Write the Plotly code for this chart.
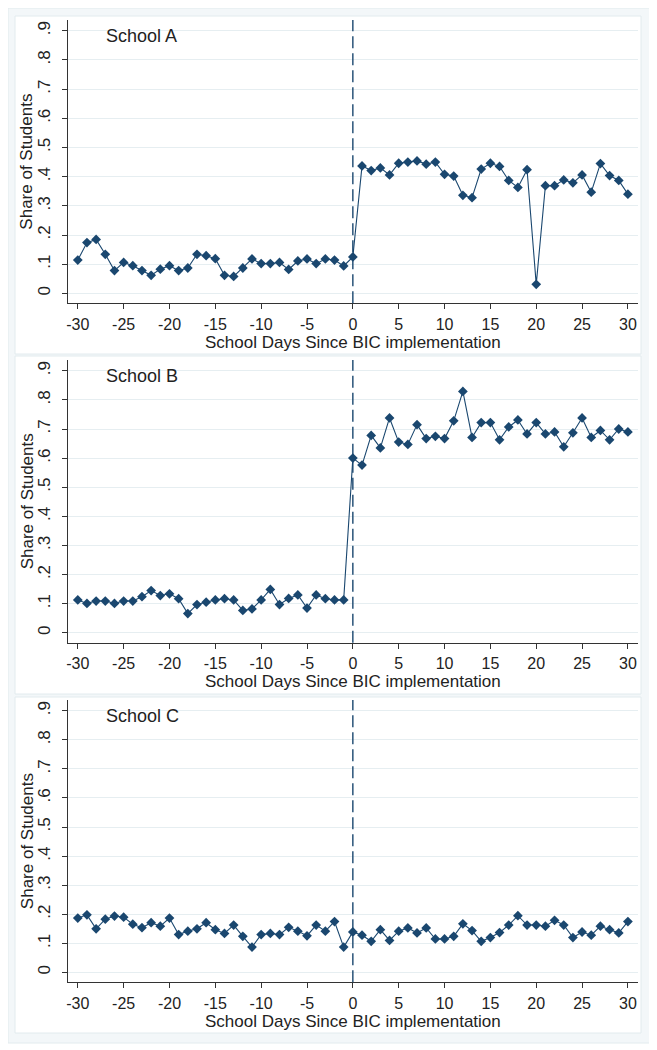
import plotly.graph_objects as go

days = list(range(-30, 31))

school_a = [0.114, 0.174, 0.185, 0.134, 0.078, 0.106, 0.095, 0.078, 0.062, 0.083,
            0.095, 0.078, 0.087, 0.134, 0.129, 0.119, 0.062, 0.058, 0.087, 0.118,
            0.102, 0.102, 0.106, 0.082, 0.111, 0.118, 0.102, 0.118, 0.114, 0.094,
            0.125,
            0.437, 0.421, 0.430, 0.406, 0.446, 0.450, 0.454, 0.443, 0.450, 0.408,
            0.402, 0.336, 0.328, 0.426, 0.446, 0.435, 0.387, 0.363, 0.424, 0.031,
            0.369, 0.369, 0.389, 0.379, 0.406, 0.347, 0.445, 0.404, 0.387, 0.340]

school_b = [0.113, 0.101, 0.109, 0.109, 0.101, 0.109, 0.109, 0.124, 0.145, 0.128,
            0.134, 0.117, 0.066, 0.097, 0.105, 0.113, 0.117, 0.113, 0.077, 0.082,
            0.113, 0.149, 0.097, 0.118, 0.130, 0.085, 0.130, 0.117, 0.113, 0.113,
            0.600,
            0.576, 0.678, 0.635, 0.738, 0.655, 0.647, 0.715, 0.667, 0.675, 0.667,
            0.728, 0.829, 0.671, 0.722, 0.722, 0.663, 0.707, 0.731, 0.683, 0.722,
            0.683, 0.690, 0.639, 0.687, 0.738, 0.671, 0.695, 0.663, 0.700, 0.690]

school_c = [0.187, 0.198, 0.150, 0.183, 0.194, 0.190, 0.166, 0.154, 0.171, 0.159,
            0.187, 0.130, 0.142, 0.150, 0.171, 0.147, 0.134, 0.163, 0.124, 0.087,
            0.130, 0.134, 0.130, 0.155, 0.142, 0.126, 0.163, 0.142, 0.175, 0.087,
            0.139,
            0.128, 0.107, 0.147, 0.110, 0.142, 0.153, 0.136, 0.153, 0.115, 0.115,
            0.124, 0.167, 0.144, 0.107, 0.120, 0.137, 0.163, 0.195, 0.163, 0.163,
            0.159, 0.179, 0.163, 0.120, 0.139, 0.128, 0.159, 0.147, 0.136, 0.175]

panel_names = ["School A", "School B", "School C"]
series = [school_a, school_b, school_c]

x_ticks = list(range(-30, 31, 5))
x_ticktext = ["-30", "-25", "-20", "-15", "-10", "-5", "0", "5", "10", "15", "20", "25", "30"]
y_ticks = [0, 0.1, 0.2, 0.3, 0.4, 0.5, 0.6, 0.7, 0.8, 0.9]
y_ticktext = ["0", ".1", ".2", ".3", ".4", ".5", ".6", ".7", ".8", ".9"]

x_title = "School Days Since BIC implementation"
y_title = "Share of Students"

# The page body adds an 8px offset; lay the figure out in window pixels.
OFF = 8
W, H = 657 - OFF, 1050 - OFF
NAVY = "#1a476f"
TEXT = "#222222"
FONT = "Liberation Sans, Arial, sans-serif"


def fx(px):
    return (px - OFF) / W


def fy(py):
    return 1 - (py - OFF) / H


# window-pixel geometry (top, bottom) of plot areas and panel boxes
plot_px = [(20, 303.3), (360, 642.7), (700, 982.3)]
box_px = [(16, 354), (356, 694), (697, 1033)]
x_left, x_right = 67.7, 638

fig = go.Figure()

shapes = [dict(type="rect", xref="paper", yref="paper",
               x0=fx(OFF), x1=fx(651), y0=fy(1043), y1=fy(OFF),
               fillcolor="#f3f7f9", line=dict(color="#e2ebee", width=1), layer="below")]
annotations = []

for i, (name, vals) in enumerate(zip(panel_names, series)):
    n = "" if i == 0 else str(i + 1)
    xa, ya = "x" + n, "y" + n
    fig.add_trace(go.Scatter(
        x=days, y=vals, mode="lines+markers", xaxis=xa, yaxis=ya,
        line=dict(color=NAVY, width=1.1),
        marker=dict(symbol="diamond", size=7.5, color=NAVY),
        showlegend=False, hoverinfo="x+y"))
    top, bot = plot_px[i]
    axis_common = dict(showline=True, linecolor="#333333", linewidth=1.3,
                       ticks="outside", ticklen=5, tickcolor="#333333", tickwidth=1.2,
                       zeroline=False, automargin=False)
    fig.update_layout(**{
        ("xaxis" + n): dict(domain=[fx(x_left), fx(x_right)], range=[-31.1, 31.1],
                            tickvals=x_ticks, ticktext=x_ticktext, showgrid=False,
                            tickfont=dict(size=16, color=TEXT, family=FONT),
                            ticklabelstandoff=1,
                            anchor=ya, **axis_common),
        ("yaxis" + n): dict(domain=[fy(bot), fy(top)], range=[-0.034, 0.937],
                            tickvals=y_ticks, ticktext=y_ticktext, tickangle=-90,
                            showgrid=True, gridcolor="#e6eef1", gridwidth=1,
                            tickfont=dict(size=17, color=TEXT, family=FONT),
                            ticklabelstandoff=5,
                            anchor=xa, **axis_common),
    })
    b0, b1 = box_px[i]
    shapes.append(dict(type="rect", xref="paper", yref="paper",
                       x0=fx(15), x1=fx(641), y0=fy(b1), y1=fy(b0),
                       fillcolor="white", line=dict(color="#e2ebee", width=1), layer="below"))
    shapes.append(dict(type="line", xref=xa, yref=ya + " domain",
                       x0=0, x1=0, y0=0, y1=1,
                       line=dict(color=NAVY, width=1.4, dash="12px,5px")))
    annotations.append(dict(text=name, xref="paper", yref="paper",
                            x=fx(104), y=fy(top + 16), xanchor="left", yanchor="middle",
                            showarrow=False, font=dict(size=18, color=TEXT, family=FONT)))
    annotations.append(dict(text=x_title, xref="paper", yref="paper",
                            x=fx((x_left + x_right) / 2), y=fy(bot + 39),
                            xanchor="center", yanchor="middle",
                            showarrow=False, font=dict(size=17, color=TEXT, family=FONT)))
    annotations.append(dict(text=y_title, xref="paper", yref="paper", textangle=-90,
                            x=fx(27), y=fy((top + bot) / 2),
                            xanchor="center", yanchor="middle",
                            showarrow=False, font=dict(size=17, color=TEXT, family=FONT)))

fig.update_layout(width=W, height=H, margin=dict(l=0, r=0, t=0, b=0),
                  template="none",
                  paper_bgcolor="white", plot_bgcolor="white",
                  shapes=shapes, annotations=annotations)

fig.write_html("out.html")
